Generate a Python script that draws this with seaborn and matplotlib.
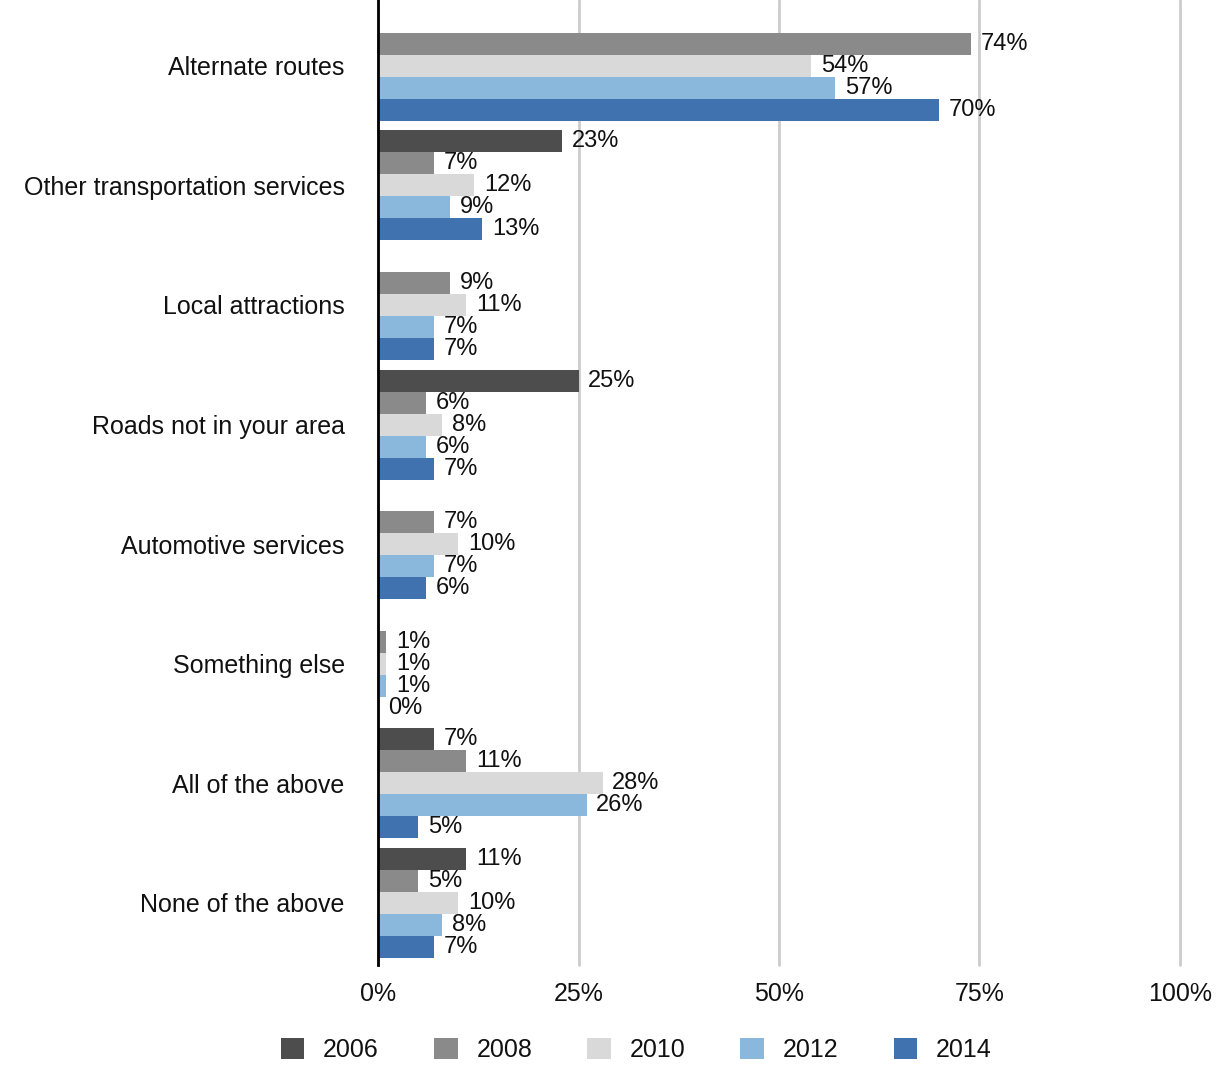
import numpy as np
import pandas as pd
import matplotlib
matplotlib.use("Agg")
import matplotlib.pyplot as plt
import seaborn as sns
from matplotlib.patches import Patch

categories = ["Alternate routes", "Other transportation services", "Local attractions",
              "Roads not in your area", "Automotive services", "Something else",
              "All of the above", "None of the above"]
years = ["2006", "2008", "2010", "2012", "2014"]
v2006 = [np.nan, 23, np.nan, 25, np.nan, np.nan, 7, 11]
v2008 = [74, 7, 9, 6, 7, 1, 11, 5]
v2010 = [54, 12, 11, 8, 10, 1, 28, 10]
v2012 = [57, 9, 7, 6, 7, 1, 26, 8]
v2014 = [70, 13, 7, 7, 6, 0, 5, 7]
colors = ["#4d4d4d", "#8a8a8a", "#d9d9d9", "#8ab8dc", "#3f72ae"]
x_ticks = [0, 25, 50, 75, 100]

rows = []
for yr, vals in zip(years, [v2006, v2008, v2010, v2012, v2014]):
    for c, v in zip(categories, vals):
        rows.append({"category": c, "year": yr, "value": v})
df = pd.DataFrame(rows)

sns.set_style("white")
plt.rcParams["font.family"] = ["Liberation Sans", "DejaVu Sans"]

fig = plt.figure(figsize=(12.21, 10.66), dpi=100)
ax = fig.add_axes([0.3096, 0.0947, 0.6568, 0.9053])

sns.barplot(data=df, x="value", y="category", hue="year", order=categories,
            hue_order=years, palette=colors, width=0.92, orient="h",
            errorbar=None, ax=ax, legend=False, saturation=1, linewidth=0)

for cont, yr in zip(ax.containers, years):
    labels = []
    for bar in cont:
        w = bar.get_width()
        labels.append("" if np.isnan(w) else f"{w:.0f}%")
    ax.bar_label(cont, labels=labels, padding=7, fontsize=17, color="#111111")

ax.set_xlim(0, 100)
ax.set_ylim(7.52, -0.55)
ax.set_xticks(x_ticks)
ax.set_xticklabels([f"{t}%" for t in x_ticks], fontsize=18, color="#111111")
ax.tick_params(axis="x", length=0, pad=12)
ax.tick_params(axis="y", length=0, pad=24, labelsize=18, labelcolor="#111111")
ax.set_xlabel("")
ax.set_ylabel("")
ax.grid(axis="x", color="#cccccc", linewidth=2)
ax.grid(axis="y", visible=False)
for gl in ax.get_xgridlines():
    gl.set_clip_on(False)
ax.set_axisbelow(True)
for s in ["top", "right", "bottom"]:
    ax.spines[s].set_visible(False)
ax.spines["left"].set_color("black")
ax.spines["left"].set_linewidth(2)
ax.spines["left"].set_zorder(5)

handles = [Patch(facecolor=c, edgecolor="none") for c in colors]
fig.legend(handles, years, loc="center", bbox_to_anchor=(0.521, 0.015), ncol=5,
           frameon=False, fontsize=18, handlelength=0.95, handleheight=0.95,
           columnspacing=2.2, handletextpad=0.75, labelcolor="#111111")

fig.savefig("out.png", dpi=100)
